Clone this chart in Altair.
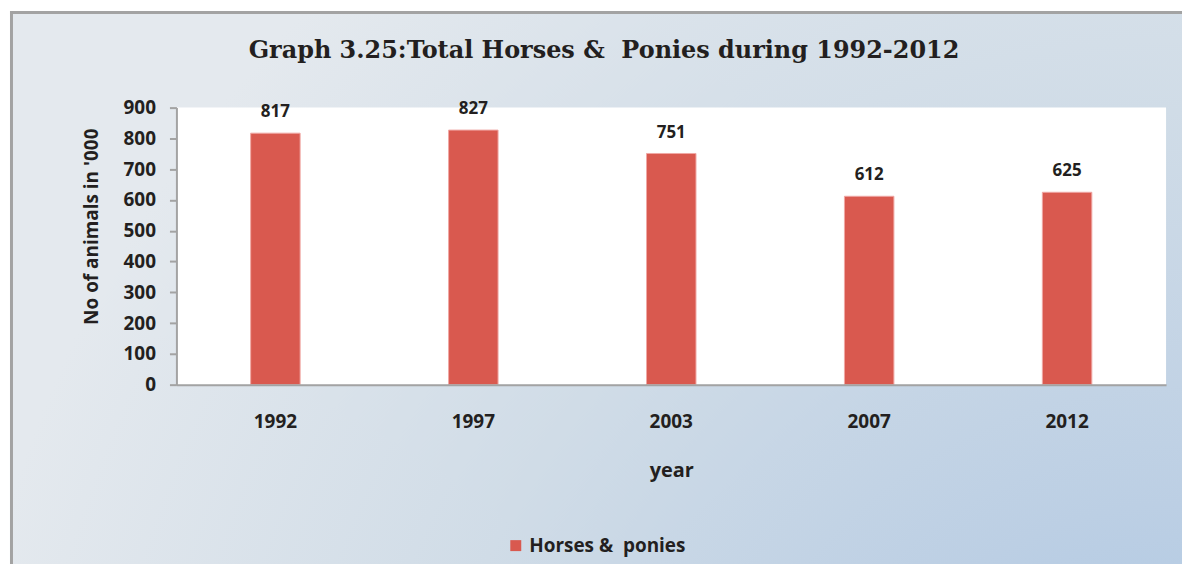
import altair as alt
import pandas as pd

# ---- data ----
years = ["1992", "1997", "2003", "2007", "2012"]
values = [817, 827, 751, 612, 625]
series_name = "Horses &\u00a0 ponies"
y_ticks = [0, 100, 200, 300, 400, 500, 600, 700, 800, 900]
title_text = "Graph 3.25:Total Horses &\u00a0 Ponies during 1992-2012"
y_title = "No of animals in '000"
x_title = "year"

df = pd.DataFrame({"year": years, "value": values, "series": [series_name] * len(years)})
one = pd.DataFrame({"k": [0]})

W, H = 993, 278
TXT = "#231f20"
AX = "#a3a3a3"
SANS = "Open Sans"

gradient = {
    "gradient": "radial",
    "x1": 1, "y1": 1, "r1": 0,
    "x2": 1, "y2": 1, "r2": 1.05,
    "stops": [
        {"offset": 0.0, "color": "#a6c4e3"},
        {"offset": 0.3, "color": "#bccfe4"},
        {"offset": 0.62, "color": "#d0dce7"},
        {"offset": 1.0, "color": "#e4e9ee"},
    ],
}

# decorative frame
bg = alt.Chart(one).mark_rect(fill=gradient, strokeWidth=0).encode(
    x=alt.value(-167), x2=alt.value(1009), y=alt.value(-97), y2=alt.value(458)
)
border_top = alt.Chart(one).mark_rule(color=AX, strokeWidth=3).encode(
    x=alt.value(-167), x2=alt.value(1009), y=alt.value(-95.5)
)
border_left = alt.Chart(one).mark_rule(color=AX, strokeWidth=3).encode(
    x=alt.value(-165.5), y=alt.value(-97), y2=alt.value(458)
)
plot_bg = alt.Chart(one).mark_rect(fill="white", strokeWidth=0).encode(
    x=alt.value(0), x2=alt.value(W), y=alt.value(0), y2=alt.value(H)
)

x_enc = alt.X(
    "year:N",
    sort=years,
    scale=alt.Scale(paddingInner=0.75, paddingOuter=0.375),
    axis=alt.Axis(
        title=x_title,
        labelAngle=0,
        ticks=False,
        tickSize=0,
        domainColor=AX,
        domainWidth=2,
        labelFont=SANS,
        labelFontWeight="bold",
        labelFontSize=19,
        labelColor=TXT,
        labelPadding=28,
        titleFont=SANS,
        titleFontWeight="bold",
        titleFontSize=20,
        titleColor=TXT,
        titleY=92,
        titleBaseline="alphabetic",
        zindex=1,
    ),
)
y_enc = alt.Y(
    "value:Q",
    scale=alt.Scale(domain=[0, 900], nice=False),
    axis=alt.Axis(
        title=y_title,
        values=y_ticks,
        labelOverlap=False,
        grid=False,
        domainColor=AX,
        domainWidth=2,
        tickColor=AX,
        tickWidth=2,
        tickSize=7,
        labelFont=SANS,
        labelFontWeight="bold",
        labelFontSize=19,
        labelColor=TXT,
        labelPadding=14,
        titleFont=SANS,
        titleFontWeight="bold",
        titleFontSize=19,
        titleColor=TXT,
        titleAngle=270,
        titleX=-85,
        titleY=119,
        titleAlign="center",
        titleBaseline="middle",
        zindex=1,
    ),
)

base = alt.Chart(df)
bars = base.mark_bar(stroke="#f0a8a5", strokeWidth=1).encode(
    x=x_enc,
    y=y_enc,
    color=alt.Color(
        "series:N",
        scale=alt.Scale(range=["#d9594f"]),
        legend=alt.Legend(
            title=None,
            orient="none",
            legendX=331,
            legendY=430,
            symbolType="square",
            symbolSize=121,
            symbolStrokeWidth=0,
            labelFont=SANS,
            labelFontWeight="bold",
            labelFontSize=19,
            labelColor=TXT,
            labelOffset=4,
            padding=0,
            zindex=1,
        ),
    ),
)
labels = base.mark_text(
    font=SANS, fontWeight="bold", fontSize=17, color=TXT, baseline="alphabetic", dy=-16
).encode(x=x_enc, y=y_enc, text="value:Q")

chart = (
    alt.layer(bg, border_top, border_left, plot_bg, bars, labels)
    .properties(
        width=W,
        height=H,
        padding={"left": 0, "top": 0, "right": 0, "bottom": 0},
        title=alt.TitleParams(
            text=title_text,
            font="DejaVu Serif",
            fontSize=24,
            fontWeight="bold",
            color=TXT,
            anchor="middle",
            frame="bounds",
            offset=-73,
            dx=8,
            baseline="alphabetic",
            zindex=1,
        ),
    )
    .configure(background="white")
    .configure_view(stroke="transparent")
)

chart.save("out.html", embed_options={"renderer": "svg", "actions": False})
